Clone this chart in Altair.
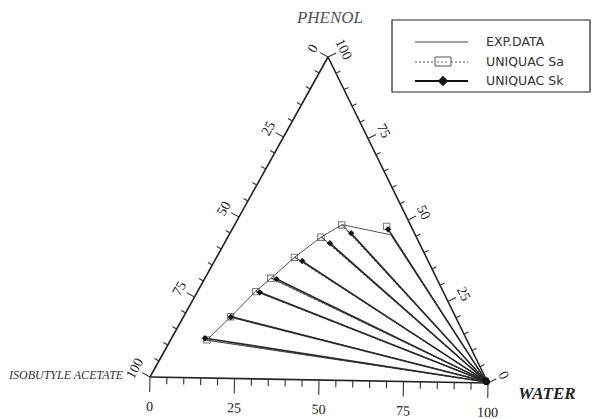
import altair as alt
import pandas as pd
import math

# ---------------- data (mass %) ----------------
# organic (isobutyl acetate rich) phase end of each tie line
exp_org_water  = [10.6, 13.9, 17.0, 19.4, 22.9, 27.4, 31.5, 47.4]
exp_org_phenol = [11.7, 19.2, 27.1, 31.3, 37.9, 44.3, 48.2, 45.3]
sa_org_water   = [10.6, 13.8, 17.1, 19.3, 22.8, 27.3, 31.4, 44.8]
sa_org_phenol  = [11.8, 19.1, 27.0, 31.2, 37.8, 44.2, 48.1, 47.9]
sk_org_water   = [9.8, 13.9, 18.4, 21.1, 25.7, 30.9, 35.5, 45.7]
sk_org_phenol  = [12.3, 19.0, 26.8, 31.0, 36.7, 42.4, 45.6, 47.0]
# aqueous (water rich) phase end of each tie line
aq_water  = [99.4, 99.3, 99.3, 99.2, 99.2, 99.1, 99.0, 98.9]
aq_phenol = [0.3, 0.4, 0.4, 0.5, 0.5, 0.6, 0.7, 0.8]

tick_values = list(range(0, 101, 5))
label_values = [0, 25, 50, 75, 100]
legend_names = ["EXP.DATA", "UNIQUAC Sa", "UNIQUAC Sk"]

# ---------------- ternary geometry (scanned triangle) ----------------
A_V = (150.0, 377.0)   # isobutyl acetate vertex
W_V = (488.0, 383.0)   # water vertex
P_V = (328.0, 57.0)    # phenol vertex


def proj(w, p):
    x = A_V[0] + (W_V[0] - A_V[0]) * w / 100 + (P_V[0] - A_V[0]) * p / 100
    y = A_V[1] + (W_V[1] - A_V[1]) * w / 100 + (P_V[1] - A_V[1]) * p / 100
    return x, y


def unit(dx, dy):
    n = math.hypot(dx, dy)
    return dx / n, dy / n


bx, by = unit(W_V[0] - A_V[0], W_V[1] - A_V[1])
n_bottom = (-by, bx)                      # points down (outward)
lx, ly = unit(P_V[0] - A_V[0], P_V[1] - A_V[1])
n_left = (ly, -lx)                        # outward, up-left
rx, ry = unit(P_V[0] - W_V[0], P_V[1] - W_V[1])
n_right = (-ry, rx)                       # outward, up-right

XS = alt.Scale(domain=[8, 591], nice=False, zero=False)
YS = alt.Scale(domain=[8, 411], nice=False, zero=False, reverse=True)
X = lambda f: alt.X(f, type="quantitative", scale=XS, axis=None)
Y = lambda f: alt.Y(f, type="quantitative", scale=YS, axis=None)
X2 = lambda f: alt.X2(f)
Y2 = lambda f: alt.Y2(f)

# ---------------- frame, ticks and tick labels ----------------
edges = []
for (p1, p2) in [(A_V, W_V), (W_V, P_V), (P_V, A_V)]:
    edges.append({"x": p1[0], "y": p1[1], "x2": p2[0], "y2": p2[1]})
edge_df = pd.DataFrame(edges)

ticks, labels = [], []
for v in tick_values:
    major = v % 25 == 0
    # bottom: water
    px, py = proj(v, 0)
    L = 15 if major else 7
    ticks.append({"x": px, "y": py, "x2": px + n_bottom[0] * L, "y2": py + n_bottom[1] * L})
    # left: isobutyl acetate (W=0, P=100-a)
    px, py = proj(0, 100 - v)
    L = 9 if major else 5
    ticks.append({"x": px, "y": py, "x2": px + n_left[0] * L, "y2": py + n_left[1] * L})
    # right: phenol (W=100-p, P=p)
    px, py = proj(100 - v, v)
    ticks.append({"x": px, "y": py, "x2": px + n_right[0] * L, "y2": py + n_right[1] * L})
tick_df = pd.DataFrame(ticks)

for v in label_values:
    px, py = proj(v, 0)
    labels.append({"x": px + n_bottom[0] * 30, "y": py + n_bottom[1] * 30, "t": str(v), "a": 1})
    px, py = proj(0, 100 - v)
    labels.append({"x": px + n_left[0] * 17, "y": py + n_left[1] * 17, "t": str(v), "a": 299})
    px, py = proj(100 - v, v)
    labels.append({"x": px + n_right[0] * 17, "y": py + n_right[1] * 17, "t": str(v), "a": 64})
lab_df = pd.DataFrame(labels)

frame = alt.Chart(edge_df).mark_rule(color="#222", strokeWidth=1.6).encode(
    x=X("x"), y=Y("y"), x2=X2("x2"), y2=Y2("y2"))
tick_layer = alt.Chart(tick_df).mark_rule(color="#333", strokeWidth=1.1).encode(
    x=X("x"), y=Y("y"), x2=X2("x2"), y2=Y2("y2"))
lab_bottom = alt.Chart(lab_df[lab_df.a == 1]).mark_text(
    font="Liberation Serif", fontSize=14, color="#222", angle=1).encode(
    x=X("x"), y=Y("y"), text="t:N")
lab_left = alt.Chart(lab_df[lab_df.a == 299]).mark_text(
    font="Liberation Serif", fontSize=14, color="#222", angle=299).encode(
    x=X("x"), y=Y("y"), text="t:N")
lab_right = alt.Chart(lab_df[lab_df.a == 64]).mark_text(
    font="Liberation Serif", fontSize=14, color="#222", angle=64).encode(
    x=X("x"), y=Y("y"), text="t:N")

# ---------------- data layers ----------------
def tie_df(ow, op):
    rows = []
    for i, (w, p) in enumerate(zip(ow, op)):
        x1, y1 = proj(w, p)
        x2, y2 = proj(aq_water[i], aq_phenol[i])
        rows.append({"i": i, "x": x1, "y": y1, "x2": x2, "y2": y2})
    return pd.DataFrame(rows)


exp_ties = tie_df(exp_org_water, exp_org_phenol)
sa_ties = tie_df(sa_org_water, sa_org_phenol)
sk_ties = tie_df(sk_org_water, sk_org_phenol)

exp_tie_layer = alt.Chart(exp_ties).mark_rule(color="#444", strokeWidth=1.0).encode(
    x=X("x"), y=Y("y"), x2=X2("x2"), y2=Y2("y2"))
sa_tie_layer = alt.Chart(sa_ties).mark_rule(color="#555", strokeWidth=1.0, strokeDash=[2, 2]).encode(
    x=X("x"), y=Y("y"), x2=X2("x2"), y2=Y2("y2"))
sk_tie_layer = alt.Chart(sk_ties).mark_rule(color="#2a2a2a", strokeWidth=1.6).encode(
    x=X("x"), y=Y("y"), x2=X2("x2"), y2=Y2("y2"))

binodal = alt.Chart(exp_ties).mark_line(color="#555", strokeWidth=1.0).encode(
    x=X("x"), y=Y("y"), order="i:Q")

sa_pts = alt.Chart(sa_ties).mark_point(shape="square", size=40, filled=False,
                                       color="#444", strokeWidth=1.1).encode(x=X("x"), y=Y("y"))
sk_pts = alt.Chart(sk_ties).mark_point(shape="diamond", size=40, filled=True,
                                       color="#111", opacity=1).encode(x=X("x"), y=Y("y"))
aq_pt = alt.Chart(sk_ties).mark_point(shape="circle", size=40, filled=True,
                                      color="#111", opacity=1).encode(x=X("x2"), y=Y("y2"))

# ---------------- component titles ----------------
titles = pd.DataFrame({
    "t": ["PHENOL", "ISOBUTYLE ACETATE", "WATER"],
    "x": [330, 9, 547],
    "y": [18, 375, 394],
})
t_phenol = alt.Chart(titles.iloc[[0]]).mark_text(
    font="Liberation Serif", fontSize=17, fontStyle="italic", color="#555").encode(
    x=X("x"), y=Y("y"), text="t:N")
t_acet = alt.Chart(titles.iloc[[1]]).mark_text(
    font="Liberation Serif", fontSize=12, fontStyle="italic", color="#333", align="left").encode(
    x=X("x"), y=Y("y"), text="t:N")
t_water = alt.Chart(titles.iloc[[2]]).mark_text(
    font="Liberation Serif", fontSize=17, fontStyle="italic", fontWeight="bold", color="#222").encode(
    x=X("x"), y=Y("y"), text="t:N")

# ---------------- legend (drawn) ----------------
OX, OY = 8, 8  # plot origin on page
leg_box = alt.Chart(pd.DataFrame({"k": [0]})).mark_rect(
    fill="white", stroke="#222", strokeWidth=1.2).encode(
    x=alt.value(392 - OX), x2=alt.value(590 - OX), y=alt.value(20 - OY), y2=alt.value(92 - OY))
leg_rows = pd.DataFrame({"name": legend_names, "row": [0, 1, 2]})
row_y = [42, 62, 81]
leg_layers = []
for r, name in enumerate(legend_names):
    yy = row_y[r] - OY
    d = leg_rows[leg_rows.row == r]
    if r == 0:
        leg_layers.append(alt.Chart(d).mark_rule(color="#444", strokeWidth=1.0).encode(
            x=alt.value(415 - OX), x2=alt.value(468 - OX), y=alt.value(yy)))
    elif r == 1:
        leg_layers.append(alt.Chart(d).mark_rule(color="#555", strokeWidth=1.0, strokeDash=[2, 2]).encode(
            x=alt.value(415 - OX), x2=alt.value(468 - OX), y=alt.value(yy)))
        leg_layers.append(alt.Chart(d).mark_rect(fill="white", stroke="#555", strokeWidth=1.0).encode(
            x=alt.value(435 - OX), x2=alt.value(451 - OX), y=alt.value(yy - 5), y2=alt.value(yy + 4)))
        leg_layers.append(alt.Chart(d).mark_rule(color="#777", strokeWidth=1.0, strokeDash=[2, 2]).encode(
            x=alt.value(437 - OX), x2=alt.value(449 - OX), y=alt.value(yy)))
    else:
        leg_layers.append(alt.Chart(d).mark_rule(color="#111", strokeWidth=1.8).encode(
            x=alt.value(415 - OX), x2=alt.value(468 - OX), y=alt.value(yy)))
        leg_layers.append(alt.Chart(d).mark_point(shape="diamond", size=110, filled=True,
                                                  color="#111", opacity=1).encode(
            x=alt.value(443 - OX), y=alt.value(yy)))
    leg_layers.append(alt.Chart(d).mark_text(
        font="DejaVu Sans", fontSize=12.5, align="left", baseline="middle", color="#333").encode(
        x=alt.value(486 - OX), y=alt.value(yy), text="name:N"))

chart = alt.layer(
    frame, tick_layer, lab_bottom, lab_left, lab_right,
    exp_tie_layer, sa_tie_layer, sk_tie_layer, binodal, sa_pts, sk_pts, aq_pt,
    t_phenol, t_acet, t_water, leg_box, *leg_layers,
).properties(
    width=583, height=403,
    autosize=alt.AutoSizeParams(type="none"),
    padding={"left": 0, "top": 0, "right": 0, "bottom": 8},
).configure_view(stroke=None)

chart.save("out.html", embed_options={"renderer": "svg", "actions": False})
